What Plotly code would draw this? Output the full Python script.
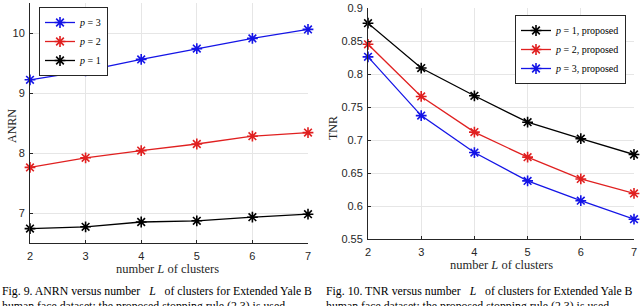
import plotly.graph_objects as go

L = [2, 3, 4, 5, 6, 7]
anrn_p3 = [9.22, 9.37, 9.56, 9.74, 9.91, 10.06]
anrn_p2 = [7.76, 7.92, 8.04, 8.15, 8.28, 8.34]
anrn_p1 = [6.74, 6.77, 6.85, 6.87, 6.93, 6.98]
tnr_p1 = [0.877, 0.809, 0.767, 0.727, 0.702, 0.678]
tnr_p2 = [0.845, 0.766, 0.712, 0.674, 0.641, 0.619]
tnr_p3 = [0.826, 0.737, 0.681, 0.638, 0.608, 0.580]

anrn_ticks = [7, 8, 9, 10]
tnr_ticks = [0.55, 0.6, 0.65, 0.7, 0.75, 0.8, 0.85, 0.9]
tnr_ticklabels = ["0.55", "0.6", "0.65", "0.7", "0.75", "0.8", "0.85", "0.9"]

BLUE = "#1414e6"
RED = "#e02020"
BLACK = "#000000"
SANS = "Liberation Sans, Arial, sans-serif"
SERIF = "Liberation Serif, Times New Roman, serif"

fig = go.Figure()

def add(x, y, name, color, xa, ya, legend):
    fig.add_trace(go.Scatter(
        x=x, y=y, name=name, mode="lines+markers",
        line=dict(color=color, width=1.3),
        marker=dict(symbol="asterisk-open", size=9, color=color,
                    line=dict(color=color, width=1.6)),
        xaxis=xa, yaxis=ya, legend=legend, cliponaxis=False))

add(L, anrn_p3, "<i>p</i> = 3", BLUE, "x", "y", "legend")
add(L, anrn_p2, "<i>p</i> = 2", RED, "x", "y", "legend")
add(L, anrn_p1, "<i>p</i> = 1", BLACK, "x", "y", "legend")
add(L, tnr_p1, "<i>p</i> = 1, proposed", BLACK, "x2", "y2", "legend2")
add(L, tnr_p2, "<i>p</i> = 2, proposed", RED, "x2", "y2", "legend2")
add(L, tnr_p3, "<i>p</i> = 3, proposed", BLUE, "x2", "y2", "legend2")

W, H = 640, 306
def dx(px):
    return px / W
def dy(py):
    return 1 - py / H

axis_common = dict(
    showgrid=True, gridcolor="#e6e6e6", gridwidth=1,
    showline=True, linecolor="#262626", linewidth=1,
    ticks="inside", ticklen=3, tickcolor="#262626",
    tickfont=dict(family=SANS, size=11, color="#262626"),
    zeroline=False, mirror=False, automargin=False,
)

fig.update_layout(
    width=W, height=H,
    margin=dict(l=0, r=0, t=0, b=0, autoexpand=False),
    paper_bgcolor="white", plot_bgcolor="white",
    xaxis=dict(domain=[dx(30), dx(308)], range=[2, 7], tickvals=L,
               anchor="y", ticklabelstandoff=3, **axis_common),
    yaxis=dict(domain=[dy(243), dy(3)], range=[6.5, 10.5], tickvals=anrn_ticks,
               anchor="x", ticklabelstandoff=2, **axis_common),
    xaxis2=dict(domain=[dx(368), dx(634)], range=[2, 7], tickvals=L,
                anchor="y2", ticklabelstandoff=3, **axis_common),
    yaxis2=dict(domain=[dy(239), dy(8)], range=[0.55, 0.9], tickvals=tnr_ticks,
                ticktext=tnr_ticklabels, anchor="x2", ticklabelstandoff=2,
                **axis_common),
    legend=dict(x=dx(39), y=dy(7), xanchor="left", yanchor="top",
                bgcolor="white", bordercolor="#262626", borderwidth=1,
                font=dict(family=SERIF, size=10, color="black"),
                itemwidth=30, tracegroupgap=0),
    legend2=dict(x=dx(626), y=dy(15), xanchor="right", yanchor="top",
                 bgcolor="white", bordercolor="#262626", borderwidth=1,
                 font=dict(family=SERIF, size=10, color="black"),
                 itemwidth=30, tracegroupgap=0),
    showlegend=True,
)

def note(x, y, text, size, **kw):
    d = dict(x=dx(x), y=dy(y), text=text, showarrow=False,
             xref="paper", yref="paper", xanchor="center", yanchor="middle",
             font=dict(family=SERIF, size=size, color=kw.pop("color", "#262626")))
    d.update(kw)
    return d

ann = [
    note(167, 269, "number <i>L</i> of clusters", 12.5),
    note(501, 265, "number <i>L</i> of clusters", 12.5),
    note(12, 126, "ANRN", 12, textangle=-90),
    note(333, 128, "TNR", 12, textangle=-90),
    note(0, 282, "Fig. 9. ANRN versus number&nbsp;&nbsp; <i>L</i> &nbsp;&nbsp;of clusters for Extended Yale B<br>human face dataset; the proposed stopping rule (2.3) is used.",
         11.8, color="black", xanchor="left", yanchor="top", align="left"),
    note(324, 282, "Fig. 10. TNR versus number&nbsp;&nbsp; <i>L</i> &nbsp;&nbsp;of clusters for Extended Yale B<br>human face dataset; the proposed stopping rule (2.3) is used.",
         11.8, color="black", xanchor="left", yanchor="top", align="left"),
]
fig.update_layout(annotations=ann)

fig.write_html("out.html",
               config={"displayModeBar": False},
               post_script="document.body.style.margin='0';document.body.style.overflow='hidden';")
